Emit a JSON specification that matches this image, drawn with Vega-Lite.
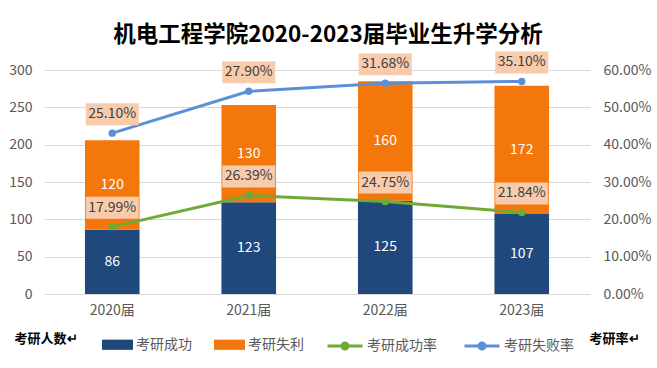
{
  "$schema": "https://vega.github.io/schema/vega-lite/v6.json",
  "width": 546,
  "height": 224,
  "autosize": {"type": "none"},
  "padding": {"left": 44, "top": 70, "right": 67, "bottom": 74},
  "background": "white",
  "title": {
    "text": "机电工程学院2020-2023届毕业生升学分析",
    "font": "Noto Sans CJK SC",
    "fontSize": 22.5,
    "fontWeight": "bold",
    "color": "#000000",
    "anchor": "middle",
    "dx": 11,
    "offset": 5
  },
  "config": {
    "view": {"stroke": null},
    "font": "Noto Sans CJK SC"
  },
  "datasets": {
    "counts": [
      {"year": "2020届", "type": "考研成功", "value": 86},
      {"year": "2020届", "type": "考研失利", "value": 120},
      {"year": "2021届", "type": "考研成功", "value": 123},
      {"year": "2021届", "type": "考研失利", "value": 130},
      {"year": "2022届", "type": "考研成功", "value": 125},
      {"year": "2022届", "type": "考研失利", "value": 160},
      {"year": "2023届", "type": "考研成功", "value": 107},
      {"year": "2023届", "type": "考研失利", "value": 172}
    ],
    "rates": [
      {"year": "2020届", "series": "考研成功率", "rate": 0.1799},
      {"year": "2021届", "series": "考研成功率", "rate": 0.2639},
      {"year": "2022届", "series": "考研成功率", "rate": 0.2475},
      {"year": "2023届", "series": "考研成功率", "rate": 0.2184},
      {"year": "2020届", "series": "考研失败率", "rate": 0.251},
      {"year": "2021届", "series": "考研失败率", "rate": 0.279},
      {"year": "2022届", "series": "考研失败率", "rate": 0.3168},
      {"year": "2023届", "series": "考研失败率", "rate": 0.351}
    ]
  },
  "encoding": {
    "x": {
      "field": "year",
      "type": "nominal",
      "scale": {"paddingInner": 0.6, "paddingOuter": 0.3},
      "axis": {
        "title": null,
        "labelAngle": 0,
        "labelColor": "#595959",
        "labelFontSize": 14,
        "labelPadding": 9,
        "ticks": false,
        "domain": false
      }
    }
  },
  "layer": [
    {
      "data": {"name": "counts"},
      "layer": [
        {
          "mark": {"type": "bar"},
          "encoding": {
            "y": {
              "field": "value",
              "type": "quantitative",
              "stack": "zero",
              "scale": {"domain": [0, 300]},
              "axis": {
                "values": [0, 50, 100, 150, 200, 250, 300],
                "labelOverlap": false,
                "grid": true,
                "gridColor": "#D9D9D9",
                "gridWidth": 1,
                "domain": false,
                "ticks": false,
                "labelColor": "#595959",
                "labelFontSize": 14,
                "labelPadding": 12,
                "title": "考研人数↵",
                "titleAngle": 0,
                "titleX": -30,
                "titleY": 268,
                "titleAlign": "left",
                "titleBaseline": "middle",
                "titleFontSize": 13,
                "titleFontWeight": "bold",
                "titleColor": "#000000"
              }
            },
            "color": {
              "field": "type",
              "type": "nominal",
              "scale": {"domain": ["考研成功", "考研失利"], "range": ["#1F497D", "#F4770C"]},
              "legend": {
                "orient": "none",
                "legendX": 58,
                "legendY": 259,
                "direction": "horizontal",
                "title": null,
                "symbolType": "M-1,-0.33L1,-0.33L1,0.33L-1,0.33Z",
                "symbolSize": 961,
                "symbolOpacity": 1,
                "symbolStrokeWidth": 0,
                "labelFontSize": 14,
                "labelColor": "#595959",
                "labelOffset": 3,
                "columnPadding": 22
              }
            },
            "order": {"field": "type", "sort": "descending"}
          }
        },
        {
          "transform": [
            {"stack": "value", "groupby": ["year"], "sort": [{"field": "type", "order": "descending"}], "as": ["v0", "v1"]},
            {"calculate": "(datum.v0 + datum.v1) / 2", "as": "mid"}
          ],
          "mark": {"type": "text", "color": "#FFFFFF", "fontSize": 14, "baseline": "middle"},
          "encoding": {
            "y": {
              "field": "mid",
              "type": "quantitative",
              "axis": {
                "values": [0, 50, 100, 150, 200, 250, 300],
                "labelOverlap": false,
                "grid": true,
                "gridColor": "#D9D9D9",
                "gridWidth": 1,
                "domain": false,
                "ticks": false,
                "labelColor": "#595959",
                "labelFontSize": 14,
                "labelPadding": 12,
                "title": "考研人数↵",
                "titleAngle": 0,
                "titleX": -30,
                "titleY": 268,
                "titleAlign": "left",
                "titleBaseline": "middle",
                "titleFontSize": 13,
                "titleFontWeight": "bold",
                "titleColor": "#000000"
              }
            },
            "text": {"field": "value", "type": "quantitative"}
          }
        }
      ]
    },
    {
      "data": {"name": "rates"},
      "encoding": {
        "y": {
          "field": "rate",
          "type": "quantitative",
          "stack": "zero",
          "scale": {"domain": [0, 0.6]},
          "axis": {
            "orient": "right",
            "values": [0, 0.1, 0.2, 0.3, 0.4, 0.5, 0.6],
            "labelOverlap": false,
            "format": ".2%",
            "grid": false,
            "domain": false,
            "ticks": false,
            "labelColor": "#595959",
            "labelFontSize": 14,
            "labelPadding": 13,
            "title": "考研率↵",
            "titleAngle": 0,
            "titleX": -1,
            "titleY": 268,
            "titleAlign": "left",
            "titleBaseline": "middle",
            "titleFontSize": 13,
            "titleFontWeight": "bold",
            "titleColor": "#000000"
          }
        },
        "order": {"field": "series", "sort": "descending"}
      },
      "layer": [
        {
          "mark": {"type": "line", "strokeWidth": 3, "point": {"filled": true, "size": 55}},
          "encoding": {
            "color": {
              "field": "series",
              "type": "nominal",
              "scale": {"domain": ["考研成功率", "考研失败率"], "range": ["#6FAA35", "#5B8FD8"]},
              "legend": {
                "orient": "none",
                "legendX": 282,
                "legendY": 257,
                "direction": "horizontal",
                "title": null,
                "symbolType": "M-1,0L1,0M0.17,0A0.17,0.17,0,1,1,-0.17,0A0.17,0.17,0,1,1,0.17,0M0.08,0A0.08,0.08,0,1,1,-0.08,0A0.08,0.08,0,1,1,0.08,0",
                "symbolSize": 1225,
                "symbolStrokeWidth": 3,
                "labelFontSize": 14,
                "labelColor": "#595959",
                "labelOffset": 3,
                "columnPadding": 21
              }
            }
          }
        },
        {
          "mark": {
            "type": "point",
            "shape": "M-1,-0.415L1,-0.415L1,0.415L-1,0.415Z",
            "size": 2809,
            "filled": true,
            "fill": "#F8CBAD",
            "opacity": 1,
            "strokeWidth": 0,
            "yOffset": -19
          },
          "encoding": {"detail": {"field": "series", "type": "nominal"}}
        },
        {
          "mark": {"type": "text", "color": "#404040", "fontSize": 14, "baseline": "middle", "yOffset": -19},
          "encoding": {
            "detail": {"field": "series", "type": "nominal"},
            "text": {"field": "rate", "type": "quantitative", "format": ".2%"}
          }
        }
      ]
    }
  ],
  "resolve": {"scale": {"y": "independent", "color": "independent"}}
}
